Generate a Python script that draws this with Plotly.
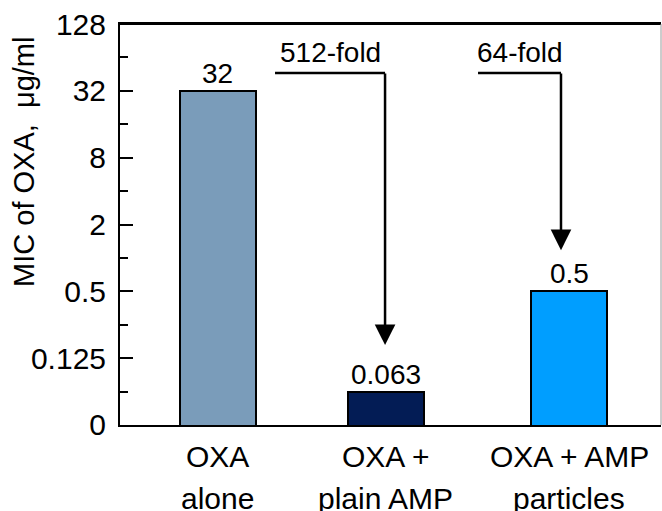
import math
import plotly.graph_objects as go

# ---- data ----
categories = [("OXA", "alone"), ("OXA +", "plain AMP"), ("OXA + AMP", "particles")]
mic_values = [32, 0.0625, 0.5]
value_labels = ["32", "0.063", "0.5"]
y_tick_vals = [2**-5, 0.125, 0.5, 2, 8, 32, 128]
y_tick_text = ["0", "0.125", "0.5", "2", "8", "32", "128"]
y_minor_vals = [0.0625, 0.25, 1, 4, 16, 64]
fold_labels = ["512-fold", "64-fold"]

# ---- layout constants ----
x_pos = [0, 0.958, 2.0]
bar_colors = ["#7A9CBA", "#031C55", "#009EFF"]
FONT = "Liberation Sans, Arial, sans-serif"

fig = go.Figure()
fig.add_trace(go.Bar(
    x=x_pos, y=mic_values, width=0.432,
    marker=dict(color=bar_colors, line=dict(color="black", width=2)),
    showlegend=False, hoverinfo="skip",
))

annotations = []
# value labels above bars
for xp, v, lab in zip(x_pos, mic_values, value_labels):
    annotations.append(dict(x=xp, y=math.log10(v), xref="x", yref="y", text=lab,
                            showarrow=False, yanchor="bottom", yshift=0,
                            font=dict(size=28, color="black", family=FONT)))
# category labels (two lines)
for xp, (l1, l2) in zip(x_pos, categories):
    annotations.append(dict(x=xp, y=-0.078, xref="x", yref="paper", text=l1,
                            showarrow=False, yanchor="middle",
                            font=dict(size=30, color="black", family=FONT)))
    annotations.append(dict(x=xp, y=-0.183, xref="x", yref="paper", text=l2,
                            showarrow=False, yanchor="middle",
                            font=dict(size=30, color="black", family=FONT)))
# y title
annotations.append(dict(x=-0.1775, y=0.656, xref="paper", yref="paper",
                        text="MIC of OXA,  μg/ml", textangle=-90, showarrow=False,
                        xanchor="center", yanchor="middle",
                        font=dict(size=29, color="black", family=FONT)))

# fold-change arrows
arrow_specs = [
    # (text x, line start x, arrow x, tip paper y)
    (0.640, 0.327, 0.953, 0.1995),
    (1.720, 1.482, 1.954, 0.436),
]
line_y = 0.878
shapes = []
for (tx, xs, xa, tip), lab in zip(arrow_specs, fold_labels):
    annotations.append(dict(x=tx, y=0.928, xref="x", yref="paper", text=lab,
                            showarrow=False, yanchor="middle",
                            font=dict(size=28, color="black", family=FONT)))
    shapes.append(dict(type="line", xref="x", yref="paper", x0=xs, x1=xa,
                       y0=line_y, y1=line_y, line=dict(color="black", width=2.5)))
    annotations.append(dict(x=xa, y=tip, xref="x", yref="paper", text="",
                            showarrow=True, arrowhead=2, arrowsize=1.65,
                            arrowwidth=2.5, arrowcolor="black",
                            ax=0, ay=-(line_y - tip) * 401 - 1, axref="pixel", ayref="pixel"))

# frame: top (black) and right (thin gray)
shapes.append(dict(type="line", xref="paper", yref="paper", x0=0, x1=1, y0=1, y1=1,
                   line=dict(color="black", width=2)))
shapes.append(dict(type="line", xref="paper", yref="paper", x0=1, x1=1, y0=0, y1=1,
                   line=dict(color="#9a9a9a", width=1)))

fig.update_layout(
    width=662, height=511,
    margin=dict(l=120, r=1, t=24, b=86, autoexpand=False),
    paper_bgcolor="white", plot_bgcolor="white",
    font=dict(family=FONT, color="black"),
    annotations=annotations, shapes=shapes,
    bargap=0,
)
fig.update_xaxes(range=[-0.555, 2.523], showline=True, linecolor="black", linewidth=2,
                 mirror=True, ticks="", showticklabels=False, showgrid=False, zeroline=False,
                 automargin=False)
fig.update_yaxes(type="log", range=[math.log10(2**-5) - 1e-4, math.log10(2**7) + 1e-4],
                 tickvals=y_tick_vals, ticktext=y_tick_text,
                 tickfont=dict(size=30, color="black", family=FONT),
                 ticks="inside", ticklen=13, tickwidth=2, tickcolor="black",
                 minor=dict(tickvals=y_minor_vals, ticks="inside", ticklen=8,
                            tickwidth=2, tickcolor="black", showgrid=False),
                 showline=True, linecolor="black", linewidth=2,
                 showgrid=False, zeroline=False, ticklabelstandoff=6, automargin=False)

# remove the default page margin so the figure fills the window exactly
fig.write_html("out.html", config={"displayModeBar": False},
               post_script="document.body.style.margin='0px';document.body.style.overflow='hidden';")
